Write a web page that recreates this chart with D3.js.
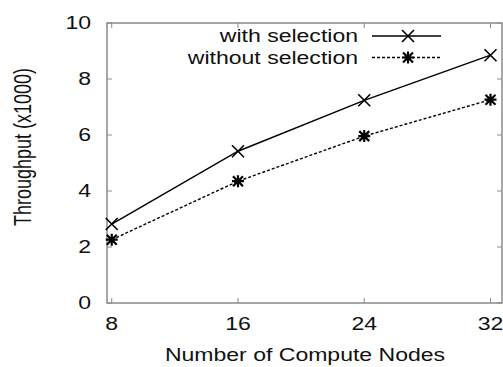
<!DOCTYPE html>
<html>
<head>
<meta charset="utf-8">
<script src="https://cdn.jsdelivr.net/npm/d3@7"></script>
<style>
  html, body { margin: 0; padding: 0; background: #fff; }
  svg { display: block; font-family: 'Liberation Sans', Arial, sans-serif; }
</style>
</head>
<body>
<svg id="chart"></svg>
<script>
const nodes = [8, 16, 24, 32];
const withSelection = [2.82, 5.42, 7.24, 8.85];
const withoutSelection = [2.26, 4.35, 5.96, 7.26];
const yTicks = [0, 2, 4, 6, 8, 10];
const seriesNames = ['with selection', 'without selection'];

const W = 503, H = 367;
const margin = { top: 23, right: 1, bottom: 64, left: 107 };
const width = W - margin.left - margin.right;
const height = H - margin.top - margin.bottom;

// the picture is stretched sideways, so text is drawn wider than tall
const stretch = 1.28;
const fontSize = '18px';
const textColor = '#111';

const svg = d3.select('#chart')
  .attr('width', W)
  .attr('height', H);

const g = svg.append('g')
  .attr('transform', `translate(${margin.left},${margin.top})`);

const x = d3.scaleLinear().domain([7.7, 32.73]).range([0, width]);
const y = d3.scaleLinear().domain([0, 10]).range([height, 0]);

const frameColor = '#8a8a8a';
const tickLen = 5;

function label(parent, px, py, txt, anchor, dy) {
  return parent.append('text')
    .attr('transform', `translate(${px},${py}) scale(${stretch},1)`)
    .attr('text-anchor', anchor)
    .attr('dy', dy || null)
    .style('font-size', fontSize)
    .attr('fill', textColor)
    .text(txt);
}

// frame
g.append('rect')
  .attr('width', width)
  .attr('height', height)
  .attr('fill', 'none')
  .attr('stroke', frameColor)
  .attr('stroke-width', 1.5);

// inward ticks on all four sides
g.append('g').selectAll('line')
  .data(nodes)
  .join('line')
  .attr('x1', d => x(d)).attr('x2', d => x(d))
  .attr('y1', height).attr('y2', height - tickLen)
  .attr('stroke', frameColor);
g.append('g').selectAll('line')
  .data(nodes)
  .join('line')
  .attr('x1', d => x(d)).attr('x2', d => x(d))
  .attr('y1', 0).attr('y2', tickLen)
  .attr('stroke', frameColor);
g.append('g').selectAll('line')
  .data(yTicks)
  .join('line')
  .attr('x1', 0).attr('x2', tickLen)
  .attr('y1', d => y(d)).attr('y2', d => y(d))
  .attr('stroke', frameColor);
g.append('g').selectAll('line')
  .data(yTicks)
  .join('line')
  .attr('x1', width).attr('x2', width - tickLen)
  .attr('y1', d => y(d)).attr('y2', d => y(d))
  .attr('stroke', frameColor);

// tick labels
nodes.forEach(d => label(g, x(d), height + 27, d, 'middle'));
yTicks.forEach(d => label(g, -16, y(d), d, 'end', '0.35em'));

// axis titles
label(svg, 305, 361, 'Number of Compute Nodes', 'middle');

svg.append('text')
  .attr('transform', `translate(31,147) scale(${stretch},1) rotate(-90)`)
  .attr('text-anchor', 'middle')
  .style('font-size', fontSize)
  .attr('fill', textColor)
  .text('Throughput (x1000)');

// markers
function crossMark(sel, s) {
  sel.append('path')
    .attr('d', `M${-s},${-s}L${s},${s}M${-s},${s}L${s},${-s}`)
    .attr('stroke', '#000')
    .attr('stroke-width', 1.6)
    .attr('fill', 'none');
}
function starMark(sel, s) {
  sel.append('path')
    .attr('d', `M${-s},${-s}L${s},${s}M${-s},${s}L${s},${-s}M${-s * 1.2},0L${s * 1.2},0M0,${-s * 1.2}L0,${s * 1.2}`)
    .attr('stroke', '#000')
    .attr('stroke-width', 2.2)
    .attr('fill', 'none');
}

const line = d3.line()
  .x((d, i) => x(nodes[i]))
  .y(d => y(d));

const series = [
  { name: seriesNames[0], values: withSelection, dash: null, mark: crossMark, size: 6 },
  { name: seriesNames[1], values: withoutSelection, dash: '3,2', mark: starMark, size: 5 }
];

series.forEach(s => {
  g.append('path')
    .datum(s.values)
    .attr('d', line)
    .attr('fill', 'none')
    .attr('stroke', '#000')
    .attr('stroke-width', 1.4)
    .attr('stroke-dasharray', s.dash);
  s.values.forEach((v, i) => {
    const m = g.append('g').attr('transform', `translate(${x(nodes[i])},${y(v)})`);
    s.mark(m, s.size);
  });
});

// legend
const legend = svg.append('g');
series.forEach((s, i) => {
  const ly = 36 + i * 21.5;
  label(legend, 358, ly, s.name, 'end', '0.35em');
  legend.append('line')
    .attr('x1', 372).attr('x2', 441)
    .attr('y1', ly).attr('y2', ly)
    .attr('stroke', '#000')
    .attr('stroke-width', 1.4)
    .attr('stroke-dasharray', s.dash);
  const m = legend.append('g').attr('transform', `translate(408,${ly})`);
  s.mark(m, s.size);
});
</script>
</body>
</html>
